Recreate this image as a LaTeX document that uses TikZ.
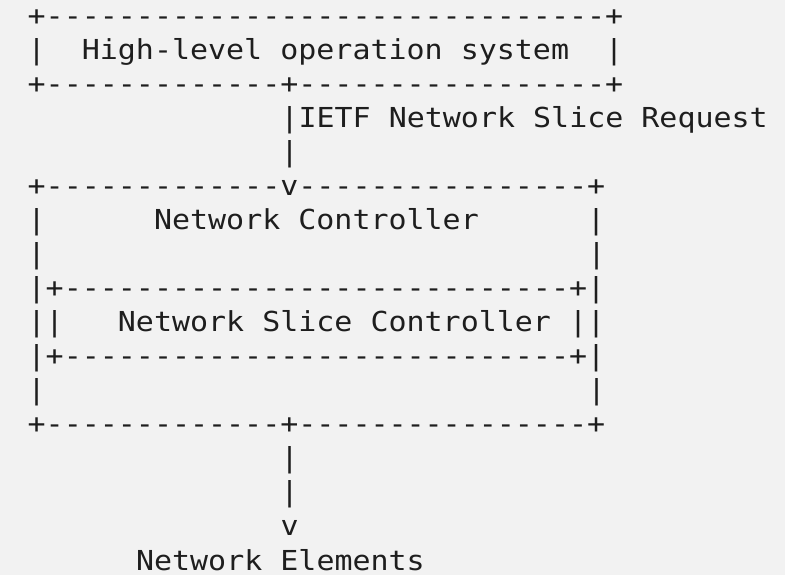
\documentclass[tikz,border=0pt]{standalone}
\usepackage{fontspec}
\setmonofont{DejaVu Sans Mono}[FakeStretch=1.09]
\usepackage{xcolor}
\usepackage{tikz}
\definecolor{paper}{HTML}{F2F2F2}
\definecolor{ink}{HTML}{1E1E1E}

\begin{document}
\begin{tikzpicture}[
    x=18.06pt, y=-34.05pt,
    ascii/.style={font=\ttfamily\fontsize{27.5}{34}\selectfont, text=ink,
                  inner sep=0pt, outer sep=0pt, anchor=base west}
  ]
    % page with the reference margins
    \fill[paper] (-27.7pt,25.2pt) rectangle (757.3pt,-549.8pt);
    \useasboundingbox (-27.7pt,25.2pt) rectangle (757.3pt,-549.8pt);

    % high-level operation system
    \node[ascii] (hlosTop) at (0,0) {+-------------------------------+};
    \node[ascii] (hlosText) at (0,1) {|~~High-level operation system~~|};
    \node[ascii] (hlosBot) at (0,2) {+-------------+-----------------+};

    \node[ascii] (reqLink) at (14,3) {|IETF Network Slice Request};
    \node[ascii] (reqBar) at (14,4) {|};

    % network controller
    \node[ascii] (ncTop) at (0,5) {+-------------v----------------+};
    \node[ascii] (ncText) at (0,6) {|~~~~~~Network Controller~~~~~~|};
    \node[ascii] (ncLeftA) at (0,7) {|};
    \node[ascii] (ncRightA) at (31,7) {|};

    % network slice controller
    \node[ascii] (nscTop) at (0,8) {|+----------------------------+|};
    \node[ascii] (nscText) at (0,9) {||~~~Network Slice Controller~||};
    \node[ascii] (nscBot) at (0,10) {|+----------------------------+|};

    \node[ascii] (ncLeftB) at (0,11) {|};
    \node[ascii] (ncRightB) at (31,11) {|};
    \node[ascii] (ncBot) at (0,12) {+-------------+----------------+};

    % network elements
    \node[ascii] (neBarA) at (14,13) {|};
    \node[ascii] (neBarB) at (14,14) {|};
    \node[ascii] (neArrow) at (14,15) {v};
    \node[ascii] (ne) at (6,16) {Network Elements};
  \end{tikzpicture}
\end{document}
